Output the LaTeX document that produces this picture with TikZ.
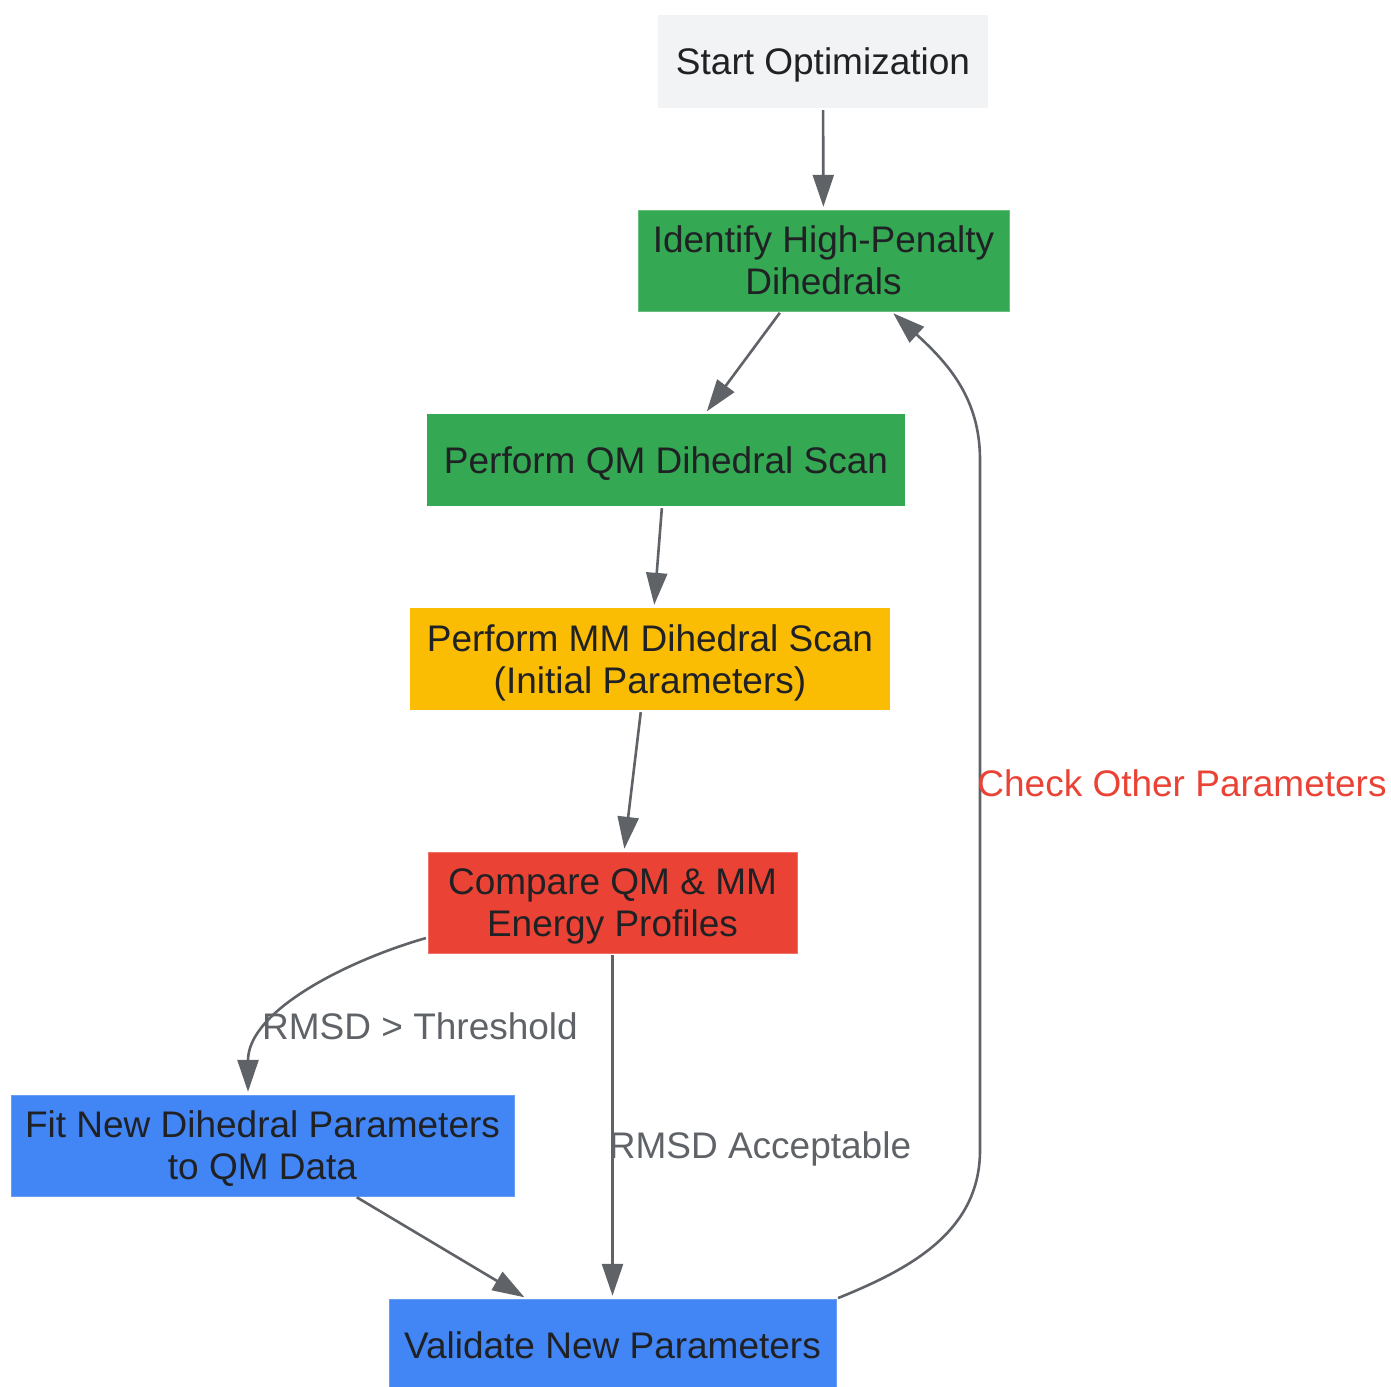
\documentclass[tikz,border=0pt]{standalone}
\usepackage{fontspec}
\setmainfont{Liberation Sans}
\usetikzlibrary{arrows.meta}
\definecolor{txt}{HTML}{202124}
\definecolor{edge}{HTML}{5F6368}
\definecolor{gstart}{HTML}{F1F3F4}
\definecolor{ggreen}{HTML}{34A853}
\definecolor{gyellow}{HTML}{FBBC04}
\definecolor{gred}{HTML}{EA4335}
\definecolor{gblue}{HTML}{4285F4}

\begin{document}
\begin{tikzpicture}[x=1pt, y=-1pt,
    box/.style={rectangle, inner sep=0pt, align=center, text=txt, text depth=0pt,
      font=\fontsize{37}{42}\selectfont},
    flow/.style={draw=edge, line width=2.6pt,
      -{Triangle[length=32pt, width=21pt]}, shorten >=3pt, shorten <=2pt},
    lbl/.style={text=edge, inner sep=0pt, font=\fontsize{37}{42}\selectfont}]
  \useasboundingbox (0,0) rectangle (1391,1386);

  % Define nodes
  \node[box, fill=gstart, minimum width=330pt, minimum height=93pt]
    (start) at (823,61.5) {Start Optimization};
  \node[box, fill=ggreen, draw=ggreen!75!white, minimum width=371pt, minimum height=101pt]
    (ident) at (823.5,260.5) {Identify High-Penalty\\Dihedrals};
  \node[box, fill=ggreen, minimum width=478pt, minimum height=92pt]
    (qm) at (666,460) {Perform QM Dihedral Scan};
  \node[box, fill=gyellow, minimum width=480pt, minimum height=102pt]
    (mm) at (650,659) {Perform MM Dihedral Scan\\(Initial Parameters)};
  \node[box, fill=gred, draw=gred!75!white, minimum width=369pt, minimum height=101pt]
    (cmp) at (612.5,902.5) {Compare QM \& MM\\Energy Profiles};
  \node[box, fill=gblue, draw=gblue!80!white, minimum width=503pt, minimum height=101pt]
    (fit) at (262.5,1145.5) {Fit New Dihedral Parameters\\to QM Data};
  \node[box, fill=gblue, draw=gblue!80!white, minimum width=447pt, minimum height=93pt]
    (valid) at (612.5,1345.5) {Validate New Parameters};

  \coordinate (rb) at (980,1150);
  \coordinate (rt) at (980,460);

  % Connect the nodes
  \draw[flow] (start) -- (ident);
  \draw[flow] ([xshift=-42.5pt]ident.south) -- ([xshift=39pt]qm.north);
  \draw[flow] ([xshift=-4pt]qm.south) -- ([xshift=4pt]mm.north);
  \draw[flow] ([xshift=-9pt]mm.south) -- ([xshift=11.5pt]cmp.north);
  \draw[flow] ([yshift=-35pt]cmp.west) to[out=196, in=90, looseness=0.9] ([xshift=-14.5pt]fit.north);
  \draw[flow] (cmp) -- (valid);
  \draw[flow] ([xshift=92.5pt]fit.south) -- ([xshift=-85.5pt]valid.north);
  \draw[flow] (valid.north east) to[out=22, in=-90] (rb) -- (rt)
    .. controls (980,400) and (950,365) .. ([xshift=67.5pt]ident.south);

  % Labels
  \node[lbl] (thr) at (420,1026) {RMSD > Threshold};
  \node[lbl] (acc) at (760,1149) {RMSD Acceptable};
  \node[lbl, text=gred] (chk) at (1182,783) {Check Other Parameters};
\end{tikzpicture}
\end{document}
